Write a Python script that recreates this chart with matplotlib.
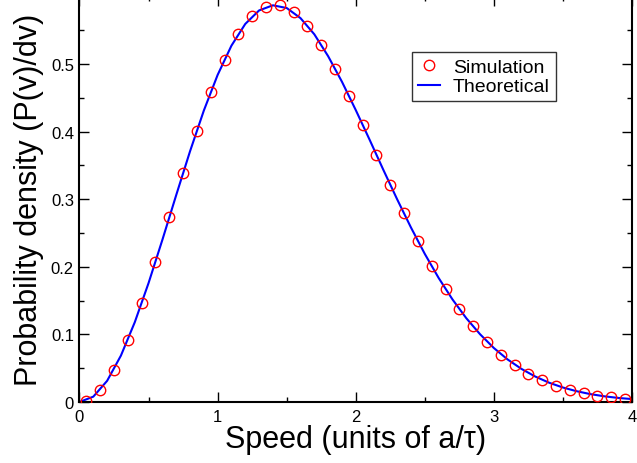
import matplotlib
matplotlib.use("Agg")
import matplotlib.pyplot as plt
from matplotlib.ticker import MultipleLocator

plt.rcParams['font.family'] = ['Liberation Sans', 'DejaVu Sans']

# simulation histogram (bin centres)
sim_v = [0.05, 0.15, 0.25, 0.35, 0.45, 0.55, 0.65, 0.75, 0.85, 0.95,
         1.05, 1.15, 1.25, 1.35, 1.45, 1.55, 1.65, 1.75, 1.85, 1.95,
         2.05, 2.15, 2.25, 2.35, 2.45, 2.55, 2.65, 2.75, 2.85, 2.95,
         3.05, 3.15, 3.25, 3.35, 3.45, 3.55, 3.65, 3.75, 3.85, 3.95]
sim_p = [0.002, 0.018, 0.048, 0.092, 0.146, 0.207, 0.273, 0.339, 0.401, 0.459,
         0.506, 0.545, 0.571, 0.585, 0.587, 0.577, 0.557, 0.528, 0.493, 0.453,
         0.410, 0.366, 0.321, 0.279, 0.238, 0.201, 0.167, 0.138, 0.112, 0.089,
         0.070, 0.054, 0.042, 0.032, 0.024, 0.018, 0.013, 0.009, 0.007, 0.005]

# theoretical curve, read at 0.1 steps
th_v = [0.0, 0.1, 0.2, 0.3, 0.4, 0.5, 0.6, 0.7, 0.8, 0.9,
        1.0, 1.1, 1.2, 1.3, 1.4, 1.5, 1.6, 1.7, 1.8, 1.9,
        2.0, 2.1, 2.2, 2.3, 2.4, 2.5, 2.6, 2.7, 2.8, 2.9,
        3.0, 3.1, 3.2, 3.3, 3.4, 3.5, 3.6, 3.7, 3.8, 3.9, 4.0]
th_p = [0.0, 0.0079, 0.0313, 0.0687, 0.1179, 0.1760, 0.2399, 0.3060, 0.3708, 0.4311,
        0.4839, 0.5272, 0.5593, 0.5793, 0.5869, 0.5829, 0.5679, 0.5440, 0.5116, 0.4738,
        0.4319, 0.3881, 0.3433, 0.2997, 0.2580, 0.2190, 0.1835, 0.1518, 0.1240, 0.1002,
        0.0798, 0.0628, 0.0489, 0.0376, 0.0285, 0.0214, 0.0159, 0.0116, 0.0084, 0.0060, 0.0043]

fig = plt.figure(figsize=(6.37, 4.64), dpi=100)
ax = fig.add_axes([0.1248, 0.1315, 0.8674, 0.874])

ax.plot(sim_v, sim_p, 'o', markerfacecolor='none', markeredgecolor='red',
        markersize=7.5, markeredgewidth=1.0, label='Simulation', zorder=3)
ax.plot(th_v, th_p, '-', color='blue', linewidth=1.5, label='Theoretical', zorder=2)

ax.set_xlim(0, 4)
ax.set_ylim(0, 0.6)
ax.xaxis.set_minor_locator(MultipleLocator(0.5))
ax.yaxis.set_minor_locator(MultipleLocator(0.05))
ax.set_yticks([0, 0.1, 0.2, 0.3, 0.4, 0.5])
ax.set_yticklabels(['0', '0.1', '0.2', '0.3', '0.4', '0.5'])
ax.set_xticks([0, 1, 2, 3, 4])
ax.set_xticklabels(['0', '1', '2', '3', '4'])

ax.tick_params(which='both', direction='in', top=True, right=True, labelsize=12)
ax.tick_params(which='major', length=7, width=1.0)
ax.tick_params(which='minor', length=3.5, width=1.0)
ax.tick_params(axis='y', pad=4)
ax.tick_params(axis='x', pad=5)
for s in ax.spines.values():
    s.set_linewidth(1.5)

ax.set_xlabel(u'Speed (units of a/\u03c4)', fontsize=22, labelpad=0)
ax.set_ylabel('Probability density (P(v)/dv)', fontsize=22, labelpad=5)

ax.legend(loc='upper left', bbox_to_anchor=(0.602, 0.862), fontsize=14,
          frameon=True, fancybox=False, edgecolor='#333333', framealpha=1,
          borderpad=0.3, labelspacing=0.1, handlelength=1.15, handletextpad=0.65,
          borderaxespad=0)

fig.savefig('out.png', dpi=100)
